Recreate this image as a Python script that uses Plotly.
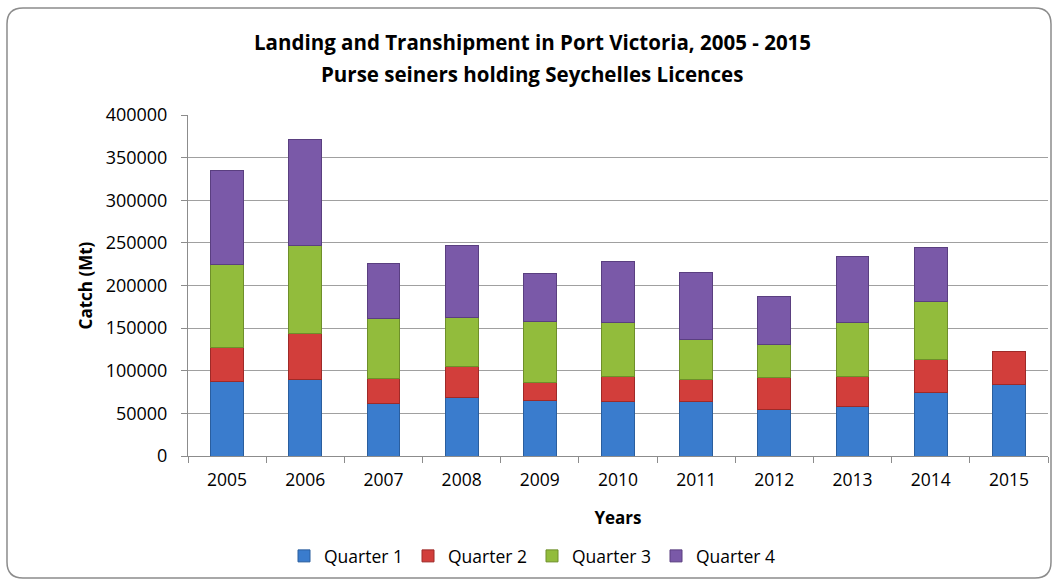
import plotly.graph_objects as go

years = ["2005", "2006", "2007", "2008", "2009", "2010", "2011", "2012", "2013", "2014", "2015"]
quarter1 = [87400, 90100, 61100, 69000, 65000, 63900, 63900, 54900, 58000, 74500, 84300]
quarter2 = [40350, 54100, 30200, 36000, 21200, 29400, 26200, 37600, 35300, 39100, 38400]
quarter3 = [97150, 103050, 70500, 57600, 71700, 63500, 46200, 38000, 63500, 68200, None]
quarter4 = [109750, 123450, 63500, 84650, 56400, 71700, 78400, 56800, 77600, 63100, None]
series_names = ["Quarter 1", "Quarter 2", "Quarter 3", "Quarter 4"]
y_ticks = [0, 50000, 100000, 150000, 200000, 250000, 300000, 350000, 400000]
title_lines = ["Landing and Transhipment in Port Victoria, 2005 - 2015",
               "Purse seiners holding Seychelles Licences"]
colors = ["#3A7CCD", "#D23E3B", "#92BC3C", "#7A59A8"]
edge_colors = ["#2A5E9E", "#9E2A28", "#6E8F2A", "#5A3F80"]

FONT = "Open Sans, Lato, sans-serif"

fig = go.Figure()
for name, vals, c, ec in zip(series_names, [quarter1, quarter2, quarter3, quarter4], colors, edge_colors):
    fig.add_trace(go.Bar(
        x=years, y=vals, name=name,
        marker=dict(color=c, line=dict(color=ec, width=1)),
    ))

W, H = 1057, 584
L, R, T, B = 188, 9, 115, 128
pw = W - L - R
ph = H - T - B

def px2paper(x, y):
    return (x - L) / pw, (H - B - y) / ph

# rounded frame
x0, y0, x1, y1, r = 7, 8, 1051, 578, 16
def P(x, y):
    a, b = px2paper(x, y)
    return f"{a:.5f},{b:.5f}"
path = (f"M {P(x0 + r, y0)} L {P(x1 - r, y0)} Q {P(x1, y0)} {P(x1, y0 + r)} "
        f"L {P(x1, y1 - r)} Q {P(x1, y1)} {P(x1 - r, y1)} "
        f"L {P(x0 + r, y1)} Q {P(x0, y1)} {P(x0, y1 - r)} "
        f"L {P(x0, y0 + r)} Q {P(x0, y0)} {P(x0 + r, y0)} Z")
fig.add_shape(type="path", path=path, xref="paper", yref="paper",
              line=dict(color="#8C8C8C", width=1.5), layer="below")

# two-line title as annotations
for txt, ypx in zip(title_lines, [42, 74]):
    ax, ay = px2paper(532, ypx)
    fig.add_annotation(text=f"<b>{txt}</b>", x=ax, y=ay, xref="paper", yref="paper",
                       xanchor="center", yanchor="middle", showarrow=False,
                       font=dict(family=FONT, size=20.5, color="#000000"))

lx, ly = px2paper(532, 556)

fig.update_layout(
    width=W, height=H,
    margin=dict(l=L, r=R, t=T, b=B),
    barmode="stack",
    bargap=0.58,
    paper_bgcolor="white",
    plot_bgcolor="white",
    font=dict(family=FONT, size=16, color="#000000"),
    xaxis=dict(
        type="category",
        showline=True, linecolor="#8C8C8C", linewidth=1,
        ticks="outside", tickson="boundaries", ticklen=6, tickcolor="#8C8C8C",
        ticklabelstandoff=8,
        tickfont=dict(size=17.5),
        title=dict(text="<b>Years</b>", font=dict(size=17), standoff=22),
        showgrid=False,
    ),
    yaxis=dict(
        range=[0, 400000],
        tickvals=y_ticks,
        ticktext=[str(v) for v in y_ticks],
        showline=True, linecolor="#8C8C8C", linewidth=1,
        ticks="outside", ticklen=6, tickcolor="#8C8C8C",
        ticklabelstandoff=10,
        gridcolor="#A0A0A0", gridwidth=1,
        tickfont=dict(size=18),
        title=dict(text="<b>Catch (Mt)</b>", font=dict(size=17), standoff=8),
        zeroline=False,
    ),
    legend=dict(
        orientation="h", x=lx, y=ly, xanchor="center", yanchor="middle",
        font=dict(size=17.5), traceorder="normal", itemwidth=30,
    ),
)

fig.write_html("out.html", config={"displayModeBar": False},
               post_script="document.body.style.margin='0';")
